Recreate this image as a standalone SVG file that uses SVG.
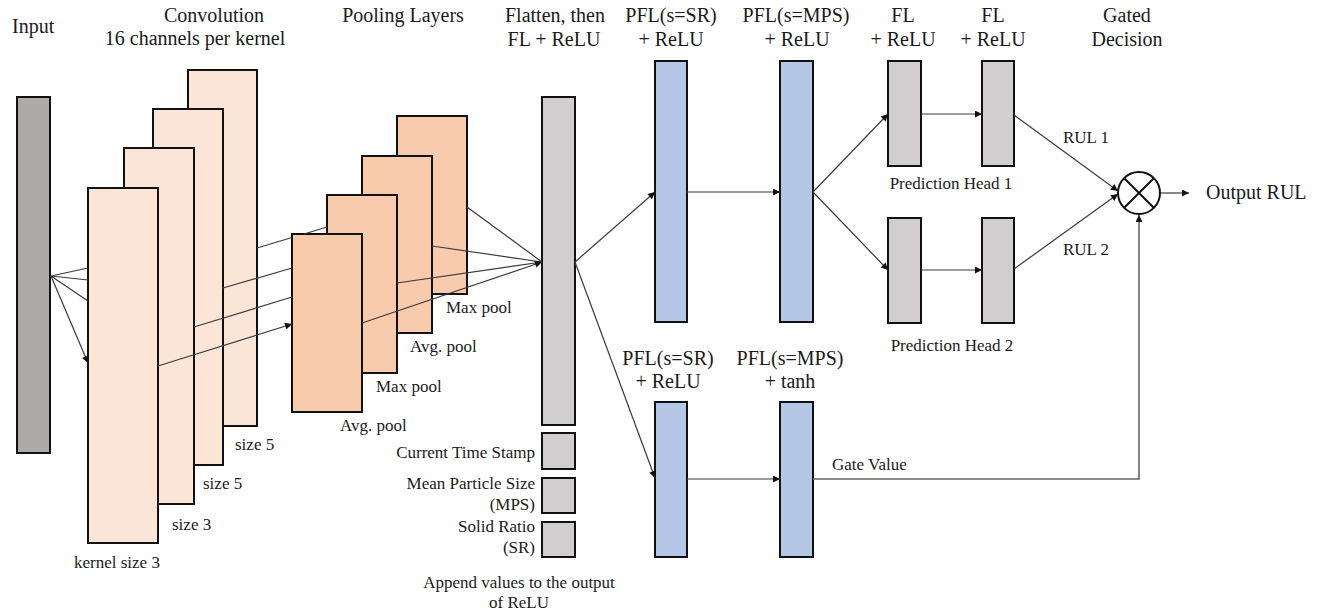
<svg xmlns="http://www.w3.org/2000/svg" width="1317" height="615" viewBox="0 0 1317 615">
<style>
text{font-family:"Liberation Serif","Times New Roman",serif;fill:#1a1a1a}
.t{font-size:20px}
.l{font-size:17px}
.m{text-anchor:middle}
.e{text-anchor:end}
rect{stroke:#111;stroke-width:2}
.in{fill:#aeaaaa}
.cv{fill:#fbe5d6}
.pl{fill:#f8cbad}
.gr{fill:#d0cece}
.bl{fill:#b4c7e7}
.c path{fill:none;stroke:#3a3a3a;stroke-width:1.2}
.c .g{stroke:#666;stroke-width:1.6}
</style>
<defs>
<marker id="ah" viewBox="0 0 10 10" refX="10" refY="5" markerWidth="9" markerHeight="7" markerUnits="userSpaceOnUse" orient="auto">
<path d="M0,0 L10,5 L0,10 z" fill="#111"/>
</marker>
</defs>
<text class="t" x="12" y="33">Input</text>
<text class="t m" x="214" y="22">Convolution</text>
<text class="t m" x="195" y="45">16 channels per kernel</text>
<text class="t m" x="403" y="22">Pooling Layers</text>
<text class="t m" x="555" y="22">Flatten, then</text>
<text class="t m" x="554" y="46">FL + ReLU</text>
<text class="t m" x="671" y="22">PFL(s=SR)</text>
<text class="t m" x="671" y="46">+ ReLU</text>
<text class="t m" x="796" y="22">PFL(s=MPS)</text>
<text class="t m" x="797" y="46">+ ReLU</text>
<text class="t m" x="903" y="22">FL</text>
<text class="t m" x="903" y="46">+ ReLU</text>
<text class="t m" x="993" y="22">FL</text>
<text class="t m" x="993" y="46">+ ReLU</text>
<text class="t m" x="1127" y="22">Gated</text>
<text class="t m" x="1127" y="46">Decision</text>
<g id="input"><rect class="in" x="17" y="97" width="33" height="356"/></g>
<g id="conv4"><rect class="cv" x="188" y="70" width="69" height="356"/><text class="l" x="235" y="450">size 5</text></g>
<g id="conv3"><rect class="cv" x="153" y="109" width="70" height="356"/><text class="l" x="203" y="489">size 5</text></g>
<g id="conv2"><rect class="cv" x="124" y="148" width="70" height="356"/><text class="l" x="172" y="530">size 3</text></g>
<g id="conv1"><rect class="cv" x="88" y="188" width="70" height="355"/><text class="l" x="74" y="568">kernel size 3</text></g>
<g id="pool4"><rect class="pl" x="397" y="116" width="70" height="178"/><text class="l" x="446" y="313">Max pool</text></g>
<g id="pool3"><rect class="pl" x="362" y="156" width="70" height="177"/><text class="l" x="410" y="352">Avg. pool</text></g>
<g id="pool2"><rect class="pl" x="327" y="195" width="70" height="178"/><text class="l" x="376" y="392">Max pool</text></g>
<g id="pool1"><rect class="pl" x="292" y="234" width="70" height="178"/><text class="l" x="340" y="431">Avg. pool</text></g>
<g id="flatten"><rect class="gr" x="542" y="97" width="33" height="328"/></g>
<g id="timestamp"><rect class="gr" x="542" y="433" width="33" height="36"/><text class="l e" x="535" y="458">Current Time Stamp</text></g>
<g id="mps"><rect class="gr" x="542" y="478" width="33" height="35"/><text class="l e" x="535" y="489">Mean Particle Size</text><text class="l e" x="535" y="510">(MPS)</text></g>
<g id="sr"><rect class="gr" x="542" y="522" width="33" height="35"/><text class="l e" x="535" y="532">Solid Ratio</text><text class="l e" x="535" y="553">(SR)</text></g>
<g id="append-note"><text class="l m" x="519" y="588">Append values to the output</text><text class="l m" x="519" y="608">of ReLU</text></g>
<g id="pfl-sr"><rect class="bl" x="655" y="61" width="32" height="261"/></g>
<g id="pfl-mps"><rect class="bl" x="780" y="61" width="33" height="261"/></g>
<g id="pfl-sr-gate"><text class="t m" x="668" y="365">PFL(s=SR)</text><text class="t m" x="668" y="388">+ ReLU</text><rect class="bl" x="655" y="402" width="32" height="155"/></g>
<g id="pfl-mps-gate"><text class="t m" x="790" y="365">PFL(s=MPS)</text><text class="t m" x="790" y="388">+ tanh</text><rect class="bl" x="780" y="402" width="33" height="155"/></g>
<g id="head1"><rect class="gr" x="888" y="61" width="33" height="105"/><rect class="gr" x="982" y="61" width="32" height="105"/><text class="l m" x="951" y="189">Prediction Head 1</text></g>
<g id="head2"><rect class="gr" x="888" y="218" width="33" height="105"/><rect class="gr" x="982" y="218" width="32" height="105"/><text class="l m" x="952" y="351">Prediction Head 2</text></g>
<g id="gate"><circle cx="1139" cy="193" r="21" fill="#fff" stroke="#111" stroke-width="2"/><path d="M1124.2,178.2 L1153.8,207.8 M1153.8,178.2 L1124.2,207.8" stroke="#111" stroke-width="2"/></g>
<g id="output"><text class="t" x="1206" y="199">Output RUL</text></g>
<g class="c" id="connectors">
<path d="M51,276 L88,268 M51,276 L88,280 M51,276 L88,301"/>
<path d="M51,276 L88,363" marker-end="url(#ah)"/>
<path d="M257,248 L292,237.5 M304,234 L327,227 M223,288 L292,268 M194,327 L292,297"/>
<path d="M158,366 L292,324" marker-end="url(#ah)"/>
<path d="M467,207 L542,262 M432,246 L542,262 M397,283 L542,262"/>
<path d="M362,323 L542,262" marker-end="url(#ah)"/>
<path d="M575,262 L655,192" marker-end="url(#ah)"/>
<path d="M575,262 L655,478" marker-end="url(#ah)"/>
<path d="M687,192 L780,192" marker-end="url(#ah)"/>
<path d="M687,479 L780,479" marker-end="url(#ah)"/>
<path d="M813,192 L888,114" marker-end="url(#ah)"/>
<path d="M813,192 L888,270" marker-end="url(#ah)"/>
<path d="M921,114 L982,114" marker-end="url(#ah)"/>
<path d="M921,270 L982,270" marker-end="url(#ah)"/>
<path d="M1014,115 L1118,191" marker-end="url(#ah)"/>
<path d="M1014,269 L1118,194" marker-end="url(#ah)"/>
<path class="g" d="M813,479 L1139,479 L1139,215" marker-end="url(#ah)"/>
<path d="M1161,193 L1189,193" marker-end="url(#ah)"/>
<text class="l" x="1063" y="143">RUL 1</text>
<text class="l" x="1063" y="255">RUL 2</text>
<text class="l" x="832" y="470">Gate Value</text>
</g>
</svg>
